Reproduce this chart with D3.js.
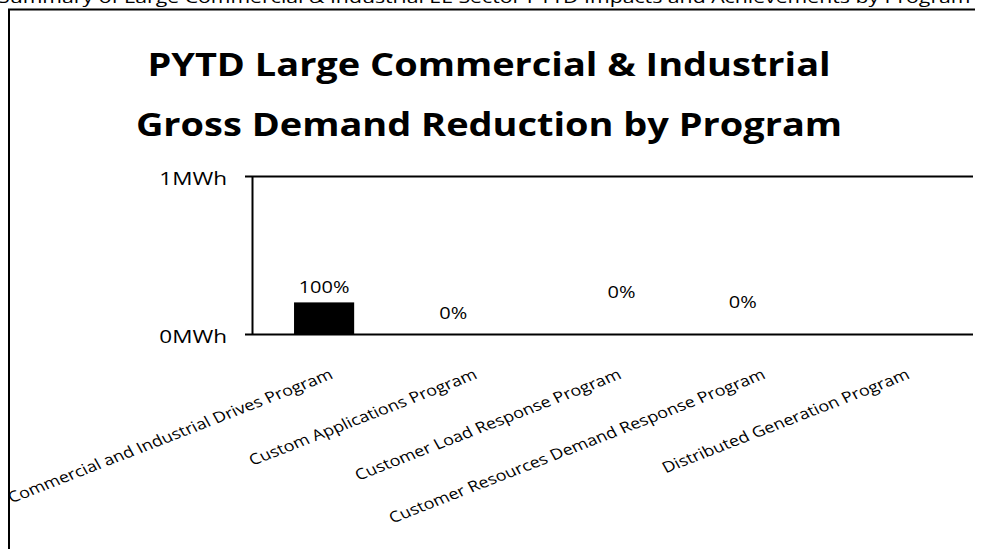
<!DOCTYPE html>
<html>
<head>
<meta charset="utf-8">
<script src="https://cdn.jsdelivr.net/npm/d3@7"></script>
<style>
  html, body { margin: 0; padding: 0; background: #fff; }
  svg { display: block; }
  text { font-family: "Open Sans", "Noto Sans", sans-serif; fill: #000; }
</style>
</head>
<body>
<script>
// ---- data ----
const programs = [
  "Commercial and Industrial Drives Program",
  "Custom Applications Program",
  "Customer Load Response Program",
  "Customer Resources Demand Response Program",
  "Distributed Generation Program"
];
const demandReductionMWh = [0.2, 0, 0, 0, 0];
const showShareLabel = [true, true, true, true, false];
const yTicks = [0, 1];
const yTickLabels = ["0MWh", "1MWh"];
const titleLines = [
  "PYTD Large Commercial & Industrial",
  "Gross Demand Reduction by Program"
];
const headerText = "Summary of Large Commercial & Industrial EE Sector PYTD Impacts and Achievements by Program";

// ---- layout ----
const W = 982, H = 549;
const plot = { left: 252, right: 973, top: 176, bottom: 334 };
const sx = 1.25; // horizontal text stretch of the exported sheet

const svg = d3.select("body").append("svg")
  .attr("width", W).attr("height", H);

svg.append("defs").append("clipPath").attr("id", "frame")
  .append("rect").attr("x", 10).attr("y", 10).attr("width", W - 10).attr("height", H - 10);

// page header line above the chart (mostly cut off by the page top)
svg.append("text")
  .attr("transform", `translate(-2,3) scale(${sx},1)`)
  .attr("font-size", 17)
  .text(headerText);

// chart frame (left and top edges)
svg.append("path")
  .attr("d", `M9,${H} V9.5 H975`)
  .attr("fill", "none").attr("stroke", "#000").attr("stroke-width", 2);

const chart = svg.append("g").attr("clip-path", "url(#frame)");

// title
chart.selectAll("text.title").data(titleLines).join("text")
  .attr("class", "title")
  .attr("text-anchor", "middle")
  .attr("font-weight", 700)
  .attr("font-size", 33)
  .attr("transform", (d, i) => `translate(489,${76 + i * 60}) scale(1.15,1)`)
  .text(d => d);

// scales
const x = d3.scaleBand().domain(programs)
  .range([plot.left, plot.right])
  .paddingInner(0.583).paddingOuter(0.2915);
const y = d3.scaleLinear().domain([0, 1]).range([plot.bottom, plot.top]);

// gridlines (including the base line)
chart.selectAll("line.grid").data(yTicks).join("line")
  .attr("class", "grid")
  .attr("x1", plot.left - 7).attr("x2", plot.right)
  .attr("y1", d => Math.round(y(d)) + 0.5).attr("y2", d => Math.round(y(d)) + 0.5)
  .attr("stroke", "#000").attr("stroke-width", 2);

// y axis
const yAxis = chart.append("g")
  .attr("transform", `translate(${plot.left},0)`)
  .call(d3.axisLeft(y).tickValues(yTicks)
    .tickFormat((d, i) => yTickLabels[i]).tickSize(0).tickPadding(0));
yAxis.select(".domain").attr("stroke", "#000").attr("stroke-width", 2);
yAxis.selectAll(".tick text")
  .attr("x", null).attr("dy", "0.35em")
  .attr("font-family", null).attr("font-size", 18)
  .attr("transform", `translate(-25,2) scale(${sx},1)`);

// bars
chart.selectAll("rect.bar").data(programs).join("rect")
  .attr("class", "bar")
  .attr("x", d => x(d))
  .attr("width", x.bandwidth())
  .attr("y", (d, i) => y(demandReductionMWh[i]))
  .attr("height", (d, i) => y(0) - y(demandReductionMWh[i]))
  .attr("fill", "#000");

// share-of-total data labels
const total = d3.sum(demandReductionMWh);
const fmtPct = d3.format(".0%");
const labelNudge = [[0, -15], [-15, -21], [9, -42], [-14, -32], [0, -20]];
chart.selectAll("text.share").data(programs).join("text")
  .attr("class", "share")
  .filter((d, i) => showShareLabel[i])
  .attr("text-anchor", "middle")
  .attr("dy", "0.35em")
  .attr("font-size", 16)
  .attr("transform", (d, i) => {
    const cx = x(d) + x.bandwidth() / 2 + labelNudge[i][0];
    const cy = y(demandReductionMWh[i]) + labelNudge[i][1];
    return `translate(${cx},${cy}) scale(${sx},1)`;
  })
  .text((d, i) => fmtPct(total ? demandReductionMWh[i] / total : 0));

// category axis labels, rotated
const xAxis = chart.append("g")
  .attr("transform", `translate(0,${plot.bottom})`)
  .call(d3.axisBottom(x).tickSize(0).tickPadding(0));
xAxis.select(".domain").remove();
xAxis.selectAll(".tick text")
  .attr("y", null).attr("dy", null)
  .attr("text-anchor", "end")
  .attr("font-family", null).attr("font-size", 15)
  .attr("transform", `translate(10,44) scale(1.2,1) rotate(-25)`);
</script>
</body>
</html>
